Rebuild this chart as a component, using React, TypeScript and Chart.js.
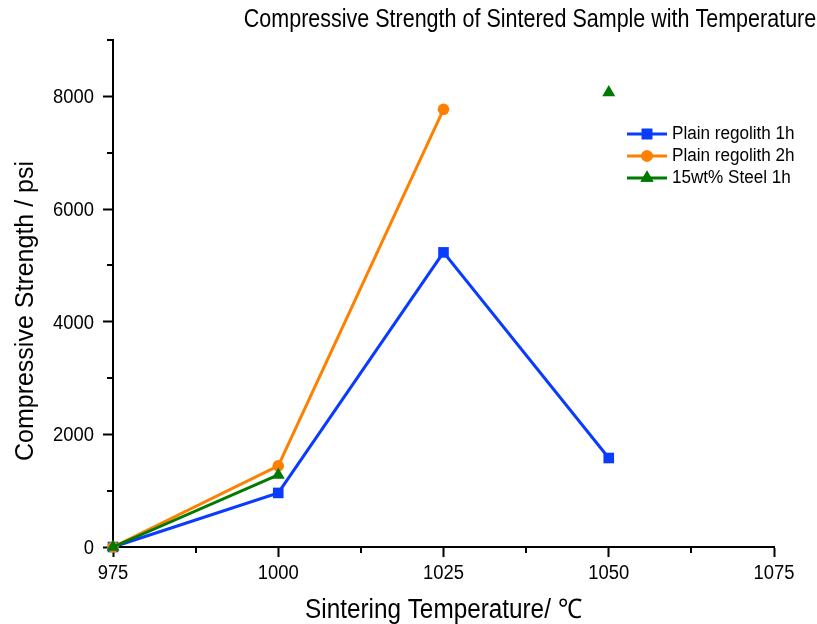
import React, { useEffect, useRef } from 'react';
import { Chart, registerables } from 'chart.js';
import { drawPoint } from 'chart.js/helpers';

Chart.register(...registerables);

const FONT = "Arial, 'Liberation Sans', sans-serif";

const chartTitle = 'Compressive Strength of Sintered Sample with Temperature';
const xTitle = 'Sintering Temperature/ ℃';
const yTitle = 'Compressive Strength / psi';

const temperatures = [975, 1000, 1025, 1050];
const plain1h: (number | null)[] = [0, 960, 5230, 1580];
const plain2h: (number | null)[] = [0, 1440, 7770, null];
const steel1h: (number | null)[] = [0, 1280, null, 8070];

const seriesNames = ['Plain regolith 1h', 'Plain regolith 2h', '15wt% Steel 1h'];
const seriesColors = ['#0a3cff', '#ff8000', '#007a00'];
const seriesMarkers = ['rect', 'circle', 'triangle'];
const seriesRadius = [7.5, 5.8, 7.5];

const xMajorTicks = [975, 1000, 1025, 1050, 1075];
const xMinorTicks = [987.5, 1012.5, 1037.5, 1062.5];
const yMajorTicks = [0, 2000, 4000, 6000, 8000];
const yMinorTicks = [1000, 3000, 5000, 7000, 9000];

const toPoints = (vals: (number | null)[]) =>
  temperatures.map((t, i) => ({ x: t, y: vals[i] }));

function drawText(
  ctx: CanvasRenderingContext2D,
  text: string,
  x: number,
  y: number,
  size: number,
  sx: number,
  align: CanvasTextAlign,
  baseline: CanvasTextBaseline,
  rotate = 0
) {
  ctx.save();
  ctx.translate(x, y);
  if (rotate) ctx.rotate(rotate);
  ctx.scale(sx, 1);
  ctx.font = `${size}px ${FONT}`;
  ctx.fillStyle = '#000';
  ctx.textAlign = align;
  ctx.textBaseline = baseline;
  ctx.fillText(text, 0, 0);
  ctx.restore();
}

const decorPlugin = {
  id: 'decor',
  afterDraw(chart: any) {
    const { ctx, scales } = chart;
    const xs = scales.x;
    const ys = scales.y;
    ctx.save();
    ctx.strokeStyle = '#000';
    ctx.lineWidth = 2;
    const axisY = ys.getPixelForValue(0);
    const axisX = xs.getPixelForValue(975);
    // minor ticks
    xMinorTicks.forEach((v) => {
      const px = Math.round(xs.getPixelForValue(v));
      ctx.beginPath();
      ctx.moveTo(px, axisY);
      ctx.lineTo(px, axisY + 6);
      ctx.stroke();
    });
    yMinorTicks.forEach((v) => {
      const py = Math.round(ys.getPixelForValue(v));
      ctx.beginPath();
      ctx.moveTo(axisX, py);
      ctx.lineTo(axisX - 6, py);
      ctx.stroke();
    });
    // tick labels
    xMajorTicks.forEach((v) => {
      drawText(ctx, String(v), xs.getPixelForValue(v), 579, 20, 0.92, 'center', 'alphabetic');
    });
    yMajorTicks.forEach((v) => {
      drawText(ctx, String(v), axisX - 19, ys.getPixelForValue(v) + 7, 20, 0.92, 'right', 'alphabetic');
    });
    // titles
    drawText(ctx, chartTitle, 530, 27, 25, 0.86, 'center', 'alphabetic');
    drawText(ctx, xTitle, (xs.left + xs.right) / 2, 618, 27, 0.9, 'center', 'alphabetic');
    drawText(ctx, yTitle, 33, 311, 25, 1, 'center', 'alphabetic', -Math.PI / 2);
    // legend
    const rows = [134, 156, 178];
    seriesNames.forEach((name, i) => {
      const y = rows[i];
      ctx.strokeStyle = seriesColors[i];
      ctx.lineWidth = 3;
      ctx.beginPath();
      ctx.moveTo(627, y);
      ctx.lineTo(667, y);
      ctx.stroke();
      ctx.fillStyle = seriesColors[i];
      drawPoint(ctx, { pointStyle: seriesMarkers[i] as any, radius: seriesRadius[i], borderWidth: 0, rotation: 0 } as any, 647, y);
      ctx.fill();
      drawText(ctx, name, 672, y, 18, 0.95, 'left', 'middle');
    });
    ctx.restore();
  },
};

export default function App() {
  const ref = useRef<HTMLCanvasElement>(null);
  useEffect(() => {
    if (!ref.current) return;
    const series = [plain1h, plain2h, steel1h];
    const chart = new Chart(ref.current, {
      type: 'line',
      data: {
        datasets: series.map((vals, i) => ({
          label: seriesNames[i],
          data: toPoints(vals) as any,
          borderColor: seriesColors[i],
          backgroundColor: seriesColors[i],
          pointBackgroundColor: seriesColors[i],
          pointBorderColor: seriesColors[i],
          pointBorderWidth: 0,
          pointStyle: seriesMarkers[i] as any,
          pointRadius: seriesRadius[i],
          borderWidth: 3,
          spanGaps: false,
          clip: false as any,
          order: 2 - i,
          tension: 0,
        })),
      },
      options: {
        animation: false,
        responsive: false,
        layout: { padding: { top: 40, right: 43, left: 0, bottom: 0 } },
        plugins: {
          legend: { display: false },
          tooltip: { enabled: false },
          title: { display: false },
        },
        scales: {
          x: {
            type: 'linear',
            min: 975,
            max: 1075,
            afterBuildTicks: (s: any) => {
              s.ticks = xMajorTicks.map((v) => ({ value: v }));
            },
            afterFit: (s: any) => {
              s.height = 77;
            },
            grid: {
              display: true,
              drawOnChartArea: false,
              drawTicks: true,
              tickLength: 10,
              tickWidth: 2,
              tickColor: '#000',
            },
            border: { display: true, color: '#000', width: 2 },
            ticks: { display: false },
            title: { display: false },
          },
          y: {
            type: 'linear',
            min: 0,
            max: 9000,
            afterBuildTicks: (s: any) => {
              s.ticks = yMajorTicks.map((v) => ({ value: v }));
            },
            afterFit: (s: any) => {
              s.width = 113;
            },
            grid: {
              display: true,
              drawOnChartArea: false,
              drawTicks: true,
              tickLength: 10,
              tickWidth: 2,
              tickColor: '#000',
            },
            border: { display: true, color: '#000', width: 2 },
            ticks: { display: false },
            title: { display: false },
          },
        },
      },
      plugins: [decorPlugin],
    });
    return () => chart.destroy();
  }, []);
  return (
    <div style={{ position: 'fixed', left: 0, top: 0, width: 817, height: 624, background: '#fff' }}>
      <canvas ref={ref} width={817} height={624} style={{ width: 817, height: 624, display: 'block' }} />
    </div>
  );
}
